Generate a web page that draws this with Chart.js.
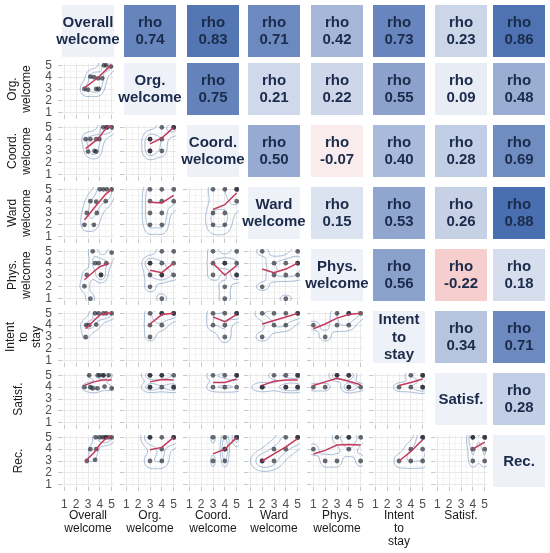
<!DOCTYPE html>
<html>
<head>
<meta charset="utf-8">
<script src="https://cdn.jsdelivr.net/npm/chart.js@4.4.1/dist/chart.umd.min.js"></script>
<style>
  html, body { margin: 0; padding: 0; background: #fff; }
  #wrap { position: relative; width: 550px; height: 553px; overflow: hidden; }
  #wrap canvas { position: absolute; }
</style>
</head>
<body>
<div id="wrap"></div>
<script>
// variable names (diagonal and axis titles)
const varLabels = [
  ["Overall", "welcome"], ["Org.", "welcome"], ["Coord.", "welcome"], ["Ward", "welcome"],
  ["Phys.", "welcome"], ["Intent", "to", "stay"], ["Satisf."], ["Rec."]
];
const tickValues = [1, 2, 3, 4, 5];
const minorValues = [1.5, 2.5, 3.5, 4.5];

// spearman rho, upper triangle, row by row
const rhoRows = [
  [0.74, 0.83, 0.71, 0.42, 0.73, 0.23, 0.86],
  [0.75, 0.21, 0.22, 0.55, 0.09, 0.48],
  [0.50, -0.07, 0.40, 0.28, 0.69],
  [0.15, 0.53, 0.26, 0.88],
  [0.56, -0.22, 0.18],
  [0.34, 0.71],
  [0.28]
];

// scatter points for the lower panels, one list per column
const orgPoints = [
  [[2.7,3],[3.0,2.95],[3.7,3],[3.9,3],[3.2,4.05],[3.5,4],[3.85,3.9],[4.2,3.9],[4.35,5],[4.55,5],[4.95,4.9]]
];
const coordPoints = [
  [[2.8,4],[3.2,4],[3.0,2.95],[3.55,3],[3.7,2.95],[3.7,4],[3.95,4],[4.3,5],[4.6,5],[4.6,5],[5.0,5]],
  [[3,4],[3,4],[3,3],[3,3],[4,5],[4,4],[4,3],[5,5],[5,5]]
];
const wardPoints = [
  [[2.7,2],[3.5,2],[2.9,3],[3.75,3],[3.2,4],[3.7,3.95],[4.0,5],[4.3,5],[4.5,4],[4.6,5],[5.0,5]],
  [[3,5],[4,5],[5,5],[3,4],[4,4],[5,4],[3,3],[4,3],[3,2],[4,2]],
  [[3,5],[4,5],[5,5],[5,5],[5,4],[3,3],[4,3],[3,2],[4,2]]
];
const physPoints = [
  [[3.4,5],[5.0,4.9],[3.6,4],[3.9,4],[4.55,4],[2.9,3],[4.1,3],[4.1,3],[2.7,2.05],[3.2,1]],
  [[4,5],[5,5],[3,4],[3,4],[4,4],[5,4],[3,3],[4,3],[4,3],[5,3],[3,2],[4,1]],
  [[3,5],[5,5],[3,4],[4,4],[4,4],[5,4],[3,3],[5,3],[5,3],[4,2],[4,1]],
  [[2,5],[5,5],[3,4],[4,4],[5,4],[5,4],[3,3],[4,3],[5,3],[2,2],[4,1]]
];
const intentPoints = [
  [[3.6,5],[3.9,5],[4.3,5],[4.55,5],[5,5],[2.85,4],[3.1,4],[3.7,4.05],[2.8,3]],
  [[3,5],[4,5],[4,5],[5,5],[5,5],[3,4],[4,4],[3,3]],
  [[3,5],[4,5],[5,5],[5,5],[3,4],[4,4],[4,3]],
  [[2,5],[3,5],[4,5],[5,5],[5,5],[3,4],[4,4],[2,3]],
  [[1,4],[2,3],[3,5],[4,5],[4,5],[5,5],[3,4],[4,4]]
];
const satisfPoints = [
  [[3.1,5],[3.85,5],[4.0,5],[4.3,5],[4.3,5],[4.75,5],[2.7,4],[3.2,4],[3.4,3.9],[3.8,3.9],[4.4,4.05],[5,3.9]],
  [[3,5],[3,5],[4,5],[4,5],[5,5],[3,4],[3,4],[4,4],[5,4],[5,4]],
  [[3,5],[4,5],[5,5],[5,5],[3,4],[4,4],[5,4]],
  [[2,4],[2,4],[3,5],[4,5],[5,5],[5,5],[4,4],[4,4],[5,4],[5,4]],
  [[1,4],[2,4],[3,5],[3,5],[4,5],[4,5],[4,4],[4,4],[5,4]],
  [[3,4],[4,5],[5,5],[5,5],[4,4],[5,4],[5,4]]
];
const recPoints = [
  [[2.9,3],[3.6,3.1],[3.2,4],[3.7,4],[3.65,5],[4.0,5],[4.25,5],[4.5,5],[4.5,5],[4.75,5],[5.0,5]],
  [[3,5],[3,5],[4,5],[5,5],[5,5],[4,4],[3,3],[4,3]],
  [[3,5],[4,5],[5,5],[5,5],[4,4],[4,4],[3,3],[4,3]],
  [[2,3],[2,3],[3,3],[3,4],[4,4],[4,5],[5,5],[5,5]],
  [[1,4],[2,3],[3,3],[3,5],[4,5],[4,5],[5,5],[4,4],[5,3]],
  [[3,3],[4,4],[4,3],[5,5],[5,5],[5,4],[5,3]],
  [[4,5],[4,5],[5,5],[5,5],[4,4],[5,4],[4,3],[5,3]]
];

// smooth (red) line
const orgFit = [
  [[2.7,3.1],[3.5,3.7],[4.0,4.1],[4.5,4.6],[4.95,5.0]]
];
const coordFit = [
  [[2.8,3.2],[3.8,4.0],[4.6,5.0],[5.0,5.2]],
  [[3,3.6],[4,4.1],[5,5.0]]
];
const wardFit = [
  [[2.7,2.4],[3.5,3.4],[4.0,4.0],[4.5,4.6],[5.0,5.0]],
  [[3,3.9],[4,3.85],[5,4.5]],
  [[3,3.3],[4,3.7],[5,4.7]]
];
const physFit = [
  [[2.7,2.6],[3.5,3.3],[4.0,3.7],[4.8,4.0]],
  [[3,3.4],[4,3.2],[5,4.0]],
  [[3,4.0],[4,3.0],[5,3.8]],
  [[2,3.5],[3,3.2],[4,3.5],[5,4.0]]
];
const intentFit = [
  [[2.8,3.7],[3.5,4.4],[4.0,4.85],[4.5,5.0],[5.0,5.0]],
  [[3,4.1],[4,4.9],[5,5.0]],
  [[3,4.7],[4,4.3],[5,4.9]],
  [[2,4.1],[3,4.4],[4,4.7],[5,5.0]],
  [[1,3.7],[2,4.1],[3,4.6],[4,4.9],[5,5.0]]
];
const satisfFit = [
  [[2.7,4.15],[3.5,4.45],[4.2,4.6],[5,4.6]],
  [[3,4.45],[4,4.65],[5,4.6]],
  [[3,4.4],[4,4.4],[5,4.7]],
  [[2,4.15],[3,4.5],[4,4.6],[5,4.6]],
  [[1,4.15],[2,4.45],[3,4.75],[4,4.5],[5,4.2]],
  [[3,4.15],[4,4.4],[5,4.7]]
];
const recFit = [
  [[2.8,3.0],[3.5,3.7],[4.0,4.4],[4.5,4.9],[5.0,5.1]],
  [[3,3.95],[4,4.15],[5,5.0]],
  [[3,3.6],[4,4.0],[5,5.0]],
  [[2,3.0],[3,3.6],[4,4.2],[5,4.9]],
  [[1,3.6],[2,3.9],[3,4.35],[4,4.4],[5,4.35]],
  [[3,3.0],[4,3.8],[5,4.8]],
  [[4,4.0],[5,4.6]]
];

const lowerPoints = [null, orgPoints, coordPoints, wardPoints, physPoints, intentPoints, satisfPoints, recPoints];
const lowerFits = [null, orgFit, coordFit, wardFit, physFit, intentFit, satisfFit, recFit];

// layout of the grid
const colLeft = [62, 124, 187, 248, 311, 373, 435, 493];
const rowTop = [5, 63, 125, 187, 249, 311, 373, 435];
const cellW = 52, cellH = 52;
const pageH = 553;
const fontFamily = "'Liberation Sans', Arial, Helvetica, sans-serif";
const textNavy = "#1b2b4b";
const diagColor = "#eef2f8";

Chart.defaults.font.family = fontFamily;
Chart.defaults.animation = false;

const wrap = document.getElementById("wrap");

function addCanvas(left, top, w, h) {
  const cv = document.createElement("canvas");
  cv.width = w;
  cv.height = h;
  cv.style.left = left + "px";
  cv.style.top = top + "px";
  cv.style.width = w + "px";
  cv.style.height = h + "px";
  wrap.appendChild(cv);
  return cv;
}

// colour scale for rho (red negative, blue positive)
const colourStops = [
  [-0.5, [235, 150, 145]],
  [0, [252, 250, 252]],
  [0.1, [230, 235, 244]],
  [0.45, [160, 178, 214]],
  [0.9, [70, 108, 174]],
  [1, [55, 95, 165]]
];
function rhoColour(v) {
  let i = 0;
  while (i < colourStops.length - 2 && v > colourStops[i + 1][0]) i++;
  const [a, ca] = colourStops[i], [b, cb] = colourStops[i + 1];
  const t = Math.max(0, Math.min(1, (v - a) / (b - a)));
  const c = ca.map((x, k) => Math.round(x + (cb[k] - x) * t));
  return `rgb(${c[0]},${c[1]},${c[2]})`;
}

function tileChart(r, c, fill, lines) {
  const m = 16;
  const cv = addCanvas(colLeft[c] - m, rowTop[r] - m, cellW + 2 * m, cellH + 2 * m);
  new Chart(cv, {
    type: "scatter",
    data: { datasets: [] },
    options: {
      responsive: false,
      layout: { padding: m },
      scales: { x: { display: false }, y: { display: false } },
      plugins: { legend: { display: false }, tooltip: { enabled: false } }
    },
    plugins: [{
      id: "tile",
      beforeDraw(chart) {
        const { ctx, chartArea: a } = chart;
        ctx.save();
        ctx.fillStyle = fill;
        ctx.fillRect(a.left, a.top, a.width, a.height);
        ctx.fillStyle = textNavy;
        ctx.font = "bold 15px " + fontFamily;
        ctx.textAlign = "center";
        ctx.textBaseline = "middle";
        const lh = 17.5;
        const cx = (a.left + a.right) / 2, cy = (a.top + a.bottom) / 2 + 0.5;
        lines.forEach((t, k) => {
          ctx.fillText(t, cx, cy + (k - (lines.length - 1) / 2) * lh);
        });
        ctx.restore();
      }
    }]
  });
}

// bandwidth as in MASS::bandwidth.nrd / 4
function bandwidth(v) {
  const n = v.length;
  const m = v.reduce((s, x) => s + x, 0) / n;
  const sd = Math.sqrt(v.reduce((s, x) => s + (x - m) * (x - m), 0) / (n - 1));
  const s = [...v].sort((a, b) => a - b);
  const q = p => {
    const h = (n - 1) * p, lo = Math.floor(h);
    return s[lo] + (h - lo) * (s[Math.min(lo + 1, n - 1)] - s[lo]);
  };
  const iqr = q(0.75) - q(0.25);
  let h = 1.06 * Math.min(sd, iqr / 1.34) * Math.pow(n, -0.2);
  if (!(h > 0)) h = 1.06 * sd * Math.pow(n, -0.2);
  return Math.max(0.9 * h, 0.25);
}

function contourPlugin(pts) {
  return {
    id: "contour",
    beforeDatasetsDraw(chart) {
      const { ctx, chartArea: a, scales: { x: xs, y: ys } } = chart;
      const hx = bandwidth(pts.map(p => p[0]));
      const hy = bandwidth(pts.map(p => p[1]));
      const N = 60, lo = 0.2, hi = 5.8, st = (hi - lo) / N;
      const g = [];
      let max = 0;
      for (let i = 0; i <= N; i++) {
        g.push([]);
        for (let j = 0; j <= N; j++) {
          const gx = lo + i * st, gy = lo + j * st;
          let d = 0;
          pts.forEach(([px, py]) => {
            const u = (gx - px) / hx, w = (gy - py) / hy;
            d += Math.exp(-0.5 * (u * u + w * w));
          });
          g[i].push(d);
          if (d > max) max = d;
        }
      }
      ctx.save();
      ctx.beginPath();
      ctx.rect(a.left, a.top, a.width, a.height);
      ctx.clip();
      ctx.strokeStyle = "rgba(125,155,195,0.75)";
      ctx.lineWidth = 0.9;
      [0.3, 0.62].forEach(f => {
        const L = f * max;
        ctx.beginPath();
        for (let i = 0; i < N; i++) {
          for (let j = 0; j < N; j++) {
            const x0 = lo + i * st, x1 = x0 + st, y0 = lo + j * st, y1 = y0 + st;
            const c0 = g[i][j], c1 = g[i + 1][j], c2 = g[i + 1][j + 1], c3 = g[i][j + 1];
            const cross = (va, vb, pa, pb) => pa + (L - va) / (vb - va) * (pb - pa);
            const e = [null, null, null, null];
            if ((c0 > L) !== (c1 > L)) e[0] = [cross(c0, c1, x0, x1), y0];
            if ((c1 > L) !== (c2 > L)) e[1] = [x1, cross(c1, c2, y0, y1)];
            if ((c3 > L) !== (c2 > L)) e[2] = [cross(c3, c2, x0, x1), y1];
            if ((c0 > L) !== (c3 > L)) e[3] = [x0, cross(c0, c3, y0, y1)];
            let pairs = [];
            const hits = e.filter(p => p);
            if (hits.length === 2) pairs = [hits];
            else if (hits.length === 4) {
              const centre = (c0 + c1 + c2 + c3) / 4;
              pairs = ((centre > L) === (c0 > L)) ? [[e[0], e[1]], [e[2], e[3]]] : [[e[0], e[3]], [e[1], e[2]]];
            }
            pairs.forEach(([p, q]) => {
              ctx.moveTo(xs.getPixelForValue(p[0]), ys.getPixelForValue(p[1]));
              ctx.lineTo(xs.getPixelForValue(q[0]), ys.getPixelForValue(q[1]));
            });
          }
        }
        ctx.stroke();
      });
      ctx.restore();
    }
  };
}

function axisOptions(showLabels, fitSize, horizontal, title) {
  const isMajor = v => tickValues.includes(v);
  return {
    type: "linear",
    min: 0.8,
    max: 5.2,
    afterBuildTicks: s => {
      s.ticks = tickValues.concat(minorValues).sort((a, b) => a - b).map(v => ({ value: v }));
    },
    afterFit: s => {
      if (horizontal) s.height = fitSize; else s.width = fitSize;
    },
    ticks: {
      display: showLabels,
      autoSkip: false,
      maxRotation: 0,
      padding: 6,
      color: "#4d4d4d",
      font: { size: 12 },
      callback: v => (isMajor(v) ? String(v) : "")
    },
    grid: {
      color: c => (isMajor(c.tick.value) ? "#e8e8e8" : "#f4f4f4"),
      tickColor: c => (isMajor(c.tick.value) ? "#c9c9c9" : "rgba(0,0,0,0)"),
      tickLength: 4,
      lineWidth: 1
    },
    border: { display: false },
    title: title || { display: false }
  };
}

function panelChart(r, c, pts, fit) {
  const lastRow = r === 7, firstCol = c === 0;
  const L = firstCol ? colLeft[0] : 4;
  const B = lastRow ? pageH - (rowTop[7] + cellH) : 4;
  const pad = { left: firstCol ? 0 : 16, top: 16, right: 16, bottom: lastRow ? 0 : 16 };
  const cv = addCanvas(colLeft[c] - L - pad.left, rowTop[r] - pad.top,
    pad.left + L + cellW + pad.right, pad.top + cellH + B + pad.bottom);

  const lh = 13.3;
  let xTitle = null, yTitle = null;
  if (lastRow) {
    const n = varLabels[c].length;
    xTitle = {
      display: true, text: varLabels[c], color: "#1a1a1a",
      font: { size: 12, lineHeight: lh + "px" },
      padding: { top: 0, bottom: 37.5 - lh / 2 - lh * (n - 1) }
    };
  }
  if (firstCol) {
    const n = varLabels[r].length;
    const firstX = { 1: 18.5, 2: 13, 3: 10.5 }[n];
    yTitle = {
      display: true, text: varLabels[r], color: "#1a1a1a",
      font: { size: 12, lineHeight: lh + "px" },
      padding: { top: firstX - lh / 2, bottom: 0 }
    };
  }

  new Chart(cv, {
    type: "scatter",
    data: {
      datasets: [
        {
          type: "line",
          data: fit.map(([x, y]) => ({ x, y })),
          borderColor: "#c4385c",
          borderWidth: 1.5,
          pointRadius: 0,
          fill: false,
          tension: 0
        },
        {
          data: pts.map(([x, y]) => ({ x, y })),
          pointRadius: 2.4,
          pointBackgroundColor: "rgba(35,38,50,0.68)",
          pointBorderWidth: 0,
          pointBorderColor: "rgba(0,0,0,0)"
        }
      ]
    },
    options: {
      responsive: false,
      layout: { padding: pad },
      scales: {
        x: axisOptions(lastRow, B, true, xTitle),
        y: axisOptions(firstCol, L, false, yTitle)
      },
      plugins: { legend: { display: false }, tooltip: { enabled: false } }
    },
    plugins: [contourPlugin(pts)]
  });
}

for (let r = 0; r < 8; r++) {
  for (let c = 0; c < 8; c++) {
    if (r === c) {
      tileChart(r, c, diagColor, varLabels[r]);
    } else if (c > r) {
      const rho = rhoRows[r][c - r - 1];
      tileChart(r, c, rhoColour(rho), ["rho", rho.toFixed(2)]);
    } else {
      panelChart(r, c, lowerPoints[r][c], lowerFits[r][c]);
    }
  }
}
</script>
</body>
</html>
